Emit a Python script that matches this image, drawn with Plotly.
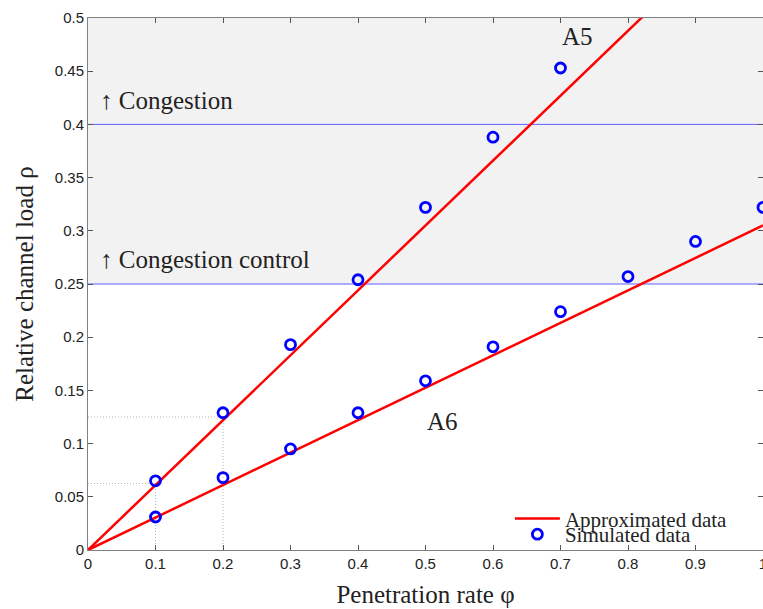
import plotly.graph_objects as go

# ---- data ----
penetration = [0.1, 0.2, 0.3, 0.4, 0.5, 0.6, 0.7, 0.8, 0.9, 1.0]
sim_a5 = [0.065, 0.129, 0.193, 0.254, 0.322, 0.388, 0.453]
sim_a6 = [0.031, 0.068, 0.095, 0.129, 0.159, 0.191, 0.224, 0.257, 0.290, 0.322]
approx_slopes = {"A5": 0.61, "A6": 0.305}
line_x = [0.0, 1.0]
thresholds = {"congestion": 0.40, "congestion_control": 0.25}
guide_x = [0.1, 0.2]
guide_y = [0.0625, 0.125]
x_ticks = [0, 0.1, 0.2, 0.3, 0.4, 0.5, 0.6, 0.7, 0.8, 0.9, 1]
x_tick_text = ["0", "0.1", "0.2", "0.3", "0.4", "0.5", "0.6", "0.7", "0.8", "0.9", "1"]
y_ticks = [0, 0.05, 0.1, 0.15, 0.2, 0.25, 0.3, 0.35, 0.4, 0.45, 0.5]
y_tick_text = ["0", "0.05", "0.1", "0.15", "0.2", "0.25", "0.3", "0.35", "0.4", "0.45", "0.5"]

SERIF = "Liberation Serif, DejaVu Serif, serif"
SANS = "Liberation Sans, Arial, sans-serif"
TXT = "#222222"

fig = go.Figure()

# dotted guides
for gx, gy in zip(guide_x, guide_y):
    fig.add_trace(go.Scatter(x=[gx, gx], y=[0, gy], mode="lines",
                             line=dict(color="#b8b8b8", width=1, dash="1px,2px"),
                             showlegend=False, hoverinfo="skip"))
    fig.add_trace(go.Scatter(x=[0, gx], y=[gy, gy], mode="lines",
                             line=dict(color="#b8b8b8", width=1, dash="1px,2px"),
                             showlegend=False, hoverinfo="skip"))

# threshold lines
for key, val in thresholds.items():
    fig.add_trace(go.Scatter(x=line_x, y=[val, val], mode="lines",
                             line=dict(color="#6060ff", width=1),
                             showlegend=False, hoverinfo="skip"))

# approximated lines
first = True
for name, s in approx_slopes.items():
    fig.add_trace(go.Scatter(x=line_x, y=[s * v for v in line_x], mode="lines",
                             line=dict(color="#ff0000", width=2.5),
                             name="Approximated data", legend="legend",
                             showlegend=first))
    first = False

# simulated data
marker = dict(symbol="circle-open", size=10, color="#0000ff",
              line=dict(width=2.8, color="#0000ff"))
fig.add_trace(go.Scatter(x=penetration[:len(sim_a5)], y=sim_a5, mode="markers",
                         marker=marker, name="Simulated data", legend="legend2",
                         showlegend=True, cliponaxis=False))
fig.add_trace(go.Scatter(x=penetration, y=sim_a6, mode="markers",
                         marker=marker, name="Simulated data", legend="legend2",
                         showlegend=False, cliponaxis=False))

# shaded congestion region
fig.add_shape(type="rect", xref="x domain", yref="y", x0=0, x1=1,
              y0=thresholds["congestion_control"], y1=0.5,
              fillcolor="#f2f2f2", line=dict(width=0), layer="below")

ann_font = dict(family=SERIF, size=25, color=TXT)
fig.add_annotation(x=0.015, y=thresholds["congestion"] + 0.008, text="↑ Congestion",
                   showarrow=False, xanchor="left", yanchor="bottom", font=ann_font)
fig.add_annotation(x=0.015, y=thresholds["congestion_control"] + 0.008,
                   text="↑ Congestion control",
                   showarrow=False, xanchor="left", yanchor="bottom", font=ann_font)
fig.add_annotation(x=0.725, y=0.483, text="A5", showarrow=False, font=ann_font)
fig.add_annotation(x=0.525, y=0.121, text="A6", showarrow=False, font=ann_font)

axis_common = dict(showgrid=False, zeroline=False, showline=True, linecolor="#808080",
                   linewidth=1, mirror="allticks", ticks="inside", ticklen=5,
                   tickcolor="#555555", automargin=False, ticklabeloverflow="allow",
                   tickfont=dict(family=SANS, size=15, color=TXT))

leg_common = dict(xanchor="left", yanchor="middle", bgcolor="rgba(0,0,0,0)",
                  borderwidth=0, font=dict(family=SERIF, size=21, color=TXT),
                  itemwidth=45)

fig.update_layout(
    width=763, height=609,
    margin=dict(l=88, r=0, t=18, b=59, autoexpand=False),
    paper_bgcolor="white", plot_bgcolor="white",
    xaxis=dict(range=[0, 1], tickvals=x_ticks, ticktext=x_tick_text,
               title=dict(text="Penetration rate φ", font=dict(family=SERIF, size=25, color=TXT),
                          standoff=14),
               **axis_common),
    yaxis=dict(range=[0, 0.5], tickvals=y_ticks, ticktext=y_tick_text,
               title=dict(text="Relative channel load ρ", font=dict(family=SERIF, size=25, color=TXT),
                          standoff=14),
               **axis_common),
    legend=dict(x=0.625, y=0.0585, **leg_common),
    legend2=dict(x=0.625, y=0.029, **leg_common),
)

fig.write_html("out.html", config={"displayModeBar": False},
               post_script="document.body.style.margin='0';document.body.style.overflow='hidden';")
